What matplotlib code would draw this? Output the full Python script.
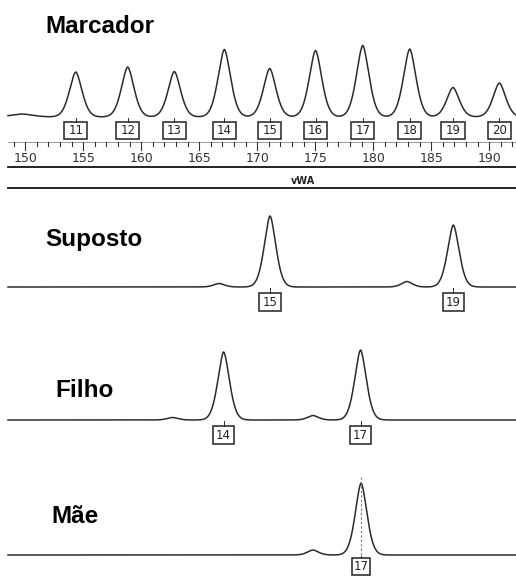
import numpy as np
import matplotlib
matplotlib.use("Agg")
import matplotlib.pyplot as plt
from matplotlib.patches import Rectangle

# ---------------- data ----------------
marker_alleles = ['11', '12', '13', '14', '15', '16', '17', '18', '19', '20']
marker_pos = [154.35, 158.83, 162.85, 167.16, 171.07, 175.02, 179.09, 183.14, 186.87, 190.87]
marker_heights = [45, 50, 45.5, 67.5, 48.5, 66.5, 71.5, 68, 29.5, 34]
marker_minor_pos = [149.7]
marker_minor_heights = [3]

suposto_alleles = ['15', '19']
suposto_pos = [171.1, 186.9]
suposto_heights = [71, 62]
suposto_minor_pos = [166.7, 182.9]
suposto_minor_heights = [3.5, 5.5]

filho_alleles = ['14', '17']
filho_pos = [167.1, 178.9]
filho_heights = [68, 70]
filho_minor_pos = [162.7, 174.8]
filho_minor_heights = [2.5, 4.5]

mae_alleles = ['17']
mae_pos = [178.95]
mae_heights = [72]
mae_minor_pos = [174.8]
mae_minor_heights = [5]

panel_names = ['Marcador', 'Suposto', 'Filho', 'Mãe']
ruler_ticks = list(range(149, 193))
ruler_labels = [150, 155, 160, 165, 170, 175, 180, 185, 190]
locus_name = 'vWA'

# ---------------- figure ----------------
W, H = 516, 579
fig = plt.figure(figsize=(W / 100, H / 100), dpi=100)
ax = fig.add_axes([0, 0, 1, 1])
px_per_bp = 11.6
x0 = 147.82
x1 = x0 + W / px_per_bp
ax.set_xlim(x0, x1)
ax.set_ylim(H, 0)
ax.axis('off')

bp = np.linspace(x0 + 8 / px_per_bp, x1, 3000)
line_col = '#2b2b2b'


def peak(center, height, s):
    d = np.abs(bp - center) / s
    return height * np.exp(-0.5 * d ** 1.7)


def trace(baseline, pos, heights, mpos, mheights, s=0.48, ms=0.45):
    sig = np.zeros_like(bp)
    for c, h in zip(pos, heights):
        sig += peak(c, h, s)
    for c, h in zip(mpos, mheights):
        sig += peak(c, h, ms)
    ax.plot(bp, baseline - sig, color=line_col, lw=1.1, solid_joinstyle='round')


def boxes(baseline, top, hgt, pos, labels, width_bp=1.9):
    for c, lab in zip(pos, labels):
        ax.plot([c, c], [baseline + 1, top], color=line_col, lw=0.7)
        ax.add_patch(Rectangle((c - width_bp / 2, top), width_bp, hgt,
                               fill=False, ec='#222222', lw=1.1))
        ax.text(c, top + hgt / 2 + 0.5, lab, ha='center', va='center',
                fontsize=8.5, color='#222222', family='DejaVu Sans')


title_kw = dict(fontsize=17.5, fontweight='bold', family='Liberation Sans',
                color='black', va='baseline', ha='left')

# Marcador panel
ax.text(x0 + 45 / px_per_bp, 33, panel_names[0], **title_kw)
trace(117, marker_pos, marker_heights, marker_minor_pos, marker_minor_heights,
      s=0.52, ms=0.9)
boxes(117, 122, 17, marker_pos, marker_alleles, width_bp=2.0)

# ruler
ax.plot([x0 + 8 / px_per_bp, x1], [142, 142], color='#888888', lw=0.6)
for t in ruler_ticks:
    L = 8 if t % 5 == 0 else 4
    ax.plot([t, t], [142, 142 + L], color='#333333', lw=0.8)
for t in ruler_labels:
    ax.text(t, 159, str(t), ha='center', va='center', fontsize=9,
            color='#333333', family='DejaVu Sans')
ax.plot([x0 + 8 / px_per_bp, x1], [167, 167], color='#111111', lw=1.3)
ax.text(x0 + 303 / px_per_bp, 180.5, locus_name, ha='center', va='center',
        fontsize=7, fontweight='bold', color='#222222', family='DejaVu Sans')
ax.plot([x0 + 8 / px_per_bp, x1], [187.5, 187.5], color='#111111', lw=1.3)

# Suposto panel
ax.text(x0 + 45 / px_per_bp, 246, panel_names[1], **title_kw)
trace(287, suposto_pos, suposto_heights, suposto_minor_pos, suposto_minor_heights)
boxes(287, 293, 18, suposto_pos, suposto_alleles, width_bp=1.85)

# Filho panel
ax.text(x0 + 55 / px_per_bp, 397, panel_names[2], **title_kw)
trace(420, filho_pos, filho_heights, filho_minor_pos, filho_minor_heights)
boxes(420, 426, 18, filho_pos, filho_alleles, width_bp=1.85)

# Mãe panel
ax.text(x0 + 51 / px_per_bp, 523, panel_names[3], **title_kw)
trace(555, mae_pos, mae_heights, mae_minor_pos, mae_minor_heights)
for c in mae_pos:
    ax.plot([c, c], [477, 558], color='#777777', lw=0.8, ls=(0, (2, 2)))
boxes(555, 558, 17, mae_pos, mae_alleles, width_bp=1.5)

fig.savefig('out.png', dpi=100)
